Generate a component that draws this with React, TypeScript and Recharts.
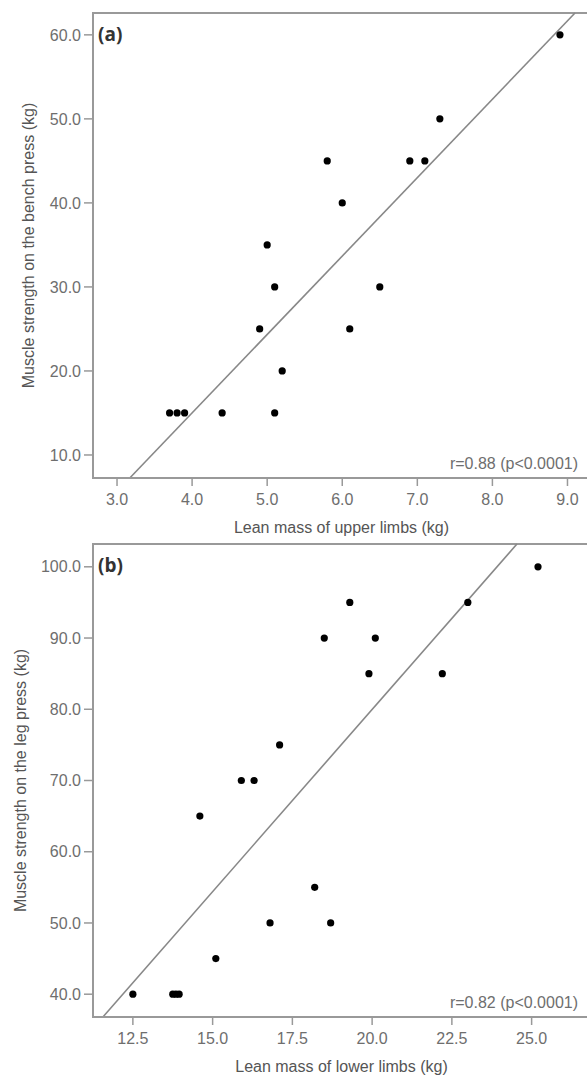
import React from "react";
import { ScatterChart, Scatter, XAxis, YAxis, ReferenceLine, ReferenceArea } from "recharts";

// Panel (a): upper limbs vs bench press
const upperLean = [8.9, 7.3, 5.8, 6.9, 7.1, 6.0, 5.0, 5.1, 6.5, 4.9, 6.1, 5.2, 3.7, 3.8, 3.9, 4.4, 5.1];
const benchPress = [60, 50, 45, 45, 45, 40, 35, 30, 30, 25, 25, 20, 15, 15, 15, 15, 15];
const upperXTicks = [3, 4, 5, 6, 7, 8, 9];
const benchYTicks = [10, 20, 30, 40, 50, 60];
const upperXDomain = [2.68, 9.3];
const benchYDomain = [7.26, 62.6];
const fitAX = [3.17, 9.1];
const fitAY = [7.26, 62.6];

// Panel (b): lower limbs vs leg press
const lowerLean = [25.2, 23.0, 19.3, 18.5, 20.1, 19.9, 22.2, 17.1, 15.9, 16.3, 14.6, 18.2, 16.8, 18.7, 15.1, 12.5, 13.75, 13.85, 13.95];
const legPress = [100, 95, 95, 90, 90, 85, 85, 75, 70, 70, 65, 55, 50, 50, 45, 40, 40, 40, 40];
const lowerXTicks = [12.5, 15, 17.5, 20, 22.5, 25];
const legYTicks = [40, 50, 60, 70, 80, 90, 100];
const lowerXDomain = [11.25, 26.83];
const legYDomain = [36.8, 103.2];
const fitBX = [11.56, 24.54];
const fitBY = [36.8, 103.2];

const FONT = "'Liberation Sans', Arial, sans-serif";
const FRAME = "#999999";
const TICKTXT = "#6e6e6e";

const Dot = (props: any) => <circle cx={props.cx} cy={props.cy} r={3.6} fill="#000" />;

interface PanelProps {
  xs: number[];
  ys: number[];
  xTicks: number[];
  yTicks: number[];
  xDomain: number[];
  yDomain: number[];
  fitX: number[];
  fitY: number[];
  height: number;
  top: number;
  tag: string;
  rText: string;
  xTitle: string;
  yTitle: string;
  yTitleX: number;
}

function Panel(p: PanelProps) {
  const data = p.xs.map((x, i) => ({ x, y: p.ys[i] }));
  const fmt = (v: number) => v.toFixed(1);
  return (
    <ScatterChart width={592} height={p.height} margin={{ top: p.top, right: 2, bottom: 0, left: 0 }}>
      <XAxis
        type="number"
        dataKey="x"
        domain={p.xDomain}
        allowDataOverflow
        ticks={p.xTicks}
        tickFormatter={fmt}
        height={62}
        tickSize={8}
        tickMargin={8}
        axisLine={{ stroke: FRAME, strokeWidth: 2 }}
        tickLine={{ stroke: FRAME, strokeWidth: 1.5 }}
        tick={{ fill: TICKTXT, fontSize: 16, fontFamily: FONT }}
        label={{
          content: (lp: any) => {
            const vb = lp.viewBox;
            return (
              <text x={vb.x + vb.width / 2} y={vb.y + 55} textAnchor="middle" fill="#555" fontSize={16} fontFamily={FONT}>
                {p.xTitle}
              </text>
            );
          },
        }}
      />
      <YAxis
        type="number"
        dataKey="y"
        domain={p.yDomain}
        allowDataOverflow
        ticks={p.yTicks}
        tickFormatter={fmt}
        width={93}
        tickSize={9}
        tickMargin={3}
        axisLine={{ stroke: FRAME, strokeWidth: 2 }}
        tickLine={{ stroke: FRAME, strokeWidth: 1.5 }}
        tick={{ fill: TICKTXT, fontSize: 16, fontFamily: FONT }}
        label={{
          content: (lp: any) => {
            const vb = lp.viewBox;
            const cy = vb.y + vb.height / 2;
            return (
              <text x={p.yTitleX} y={cy} textAnchor="middle" fill="#555" fontSize={16} fontFamily={FONT} transform={`rotate(-90, ${p.yTitleX}, ${cy})`}>
                {p.yTitle}
              </text>
            );
          },
        }}
      />
      <ReferenceArea
        x1={p.xDomain[0]}
        x2={p.xDomain[1]}
        y1={p.yDomain[0]}
        y2={p.yDomain[1]}
        fill="none"
        stroke={FRAME}
        strokeWidth={2}
        label={{
          content: (lp: any) => {
            const vb = lp.viewBox;
            return (
              <g>
                <text x={vb.x + 5} y={vb.y + 28} fill="#333" fontSize={19} fontWeight="bold" fontFamily="'Open Sans', sans-serif">
                  {p.tag}
                </text>
                <text x={vb.x + vb.width - 12} y={vb.y + vb.height - 9} textAnchor="end" fill={TICKTXT} fontSize={16} fontFamily={FONT}>
                  {p.rText}
                </text>
              </g>
            );
          },
        }}
      />
      <ReferenceLine
        segment={[
          { x: p.fitX[0], y: p.fitY[0] },
          { x: p.fitX[1], y: p.fitY[1] },
        ]}
        stroke="#888"
        strokeWidth={1.6}
        ifOverflow="visible"
      />
      <Scatter data={data} shape={Dot} isAnimationActive={false} />
    </ScatterChart>
  );
}

export default function App() {
  return (
    <div style={{ position: "absolute", left: 0, top: 0, width: 587, height: 1079, overflow: "hidden", background: "#fff" }}>
      <div style={{ position: "absolute", left: 0, top: 0 }}>
        <Panel
          xs={upperLean}
          ys={benchPress}
          xTicks={upperXTicks}
          yTicks={benchYTicks}
          xDomain={upperXDomain}
          yDomain={benchYDomain}
          fitX={fitAX}
          fitY={fitAY}
          height={540}
          top={13}
          tag="(a)"
          rText="r=0.88 (p<0.0001)"
          xTitle="Lean mass of upper limbs (kg)"
          yTitle="Muscle strength on the bench press (kg)"
          yTitleX={34}
        />
      </div>
      <div style={{ position: "absolute", left: 0, top: 540 }}>
        <Panel
          xs={lowerLean}
          ys={legPress}
          xTicks={lowerXTicks}
          yTicks={legYTicks}
          xDomain={lowerXDomain}
          yDomain={legYDomain}
          fitX={fitBX}
          fitY={fitBY}
          height={539}
          top={4}
          tag="(b)"
          rText="r=0.82 (p<0.0001)"
          xTitle="Lean mass of lower limbs (kg)"
          yTitle="Muscle strength on the leg press (kg)"
          yTitleX={26}
        />
      </div>
    </div>
  );
}
